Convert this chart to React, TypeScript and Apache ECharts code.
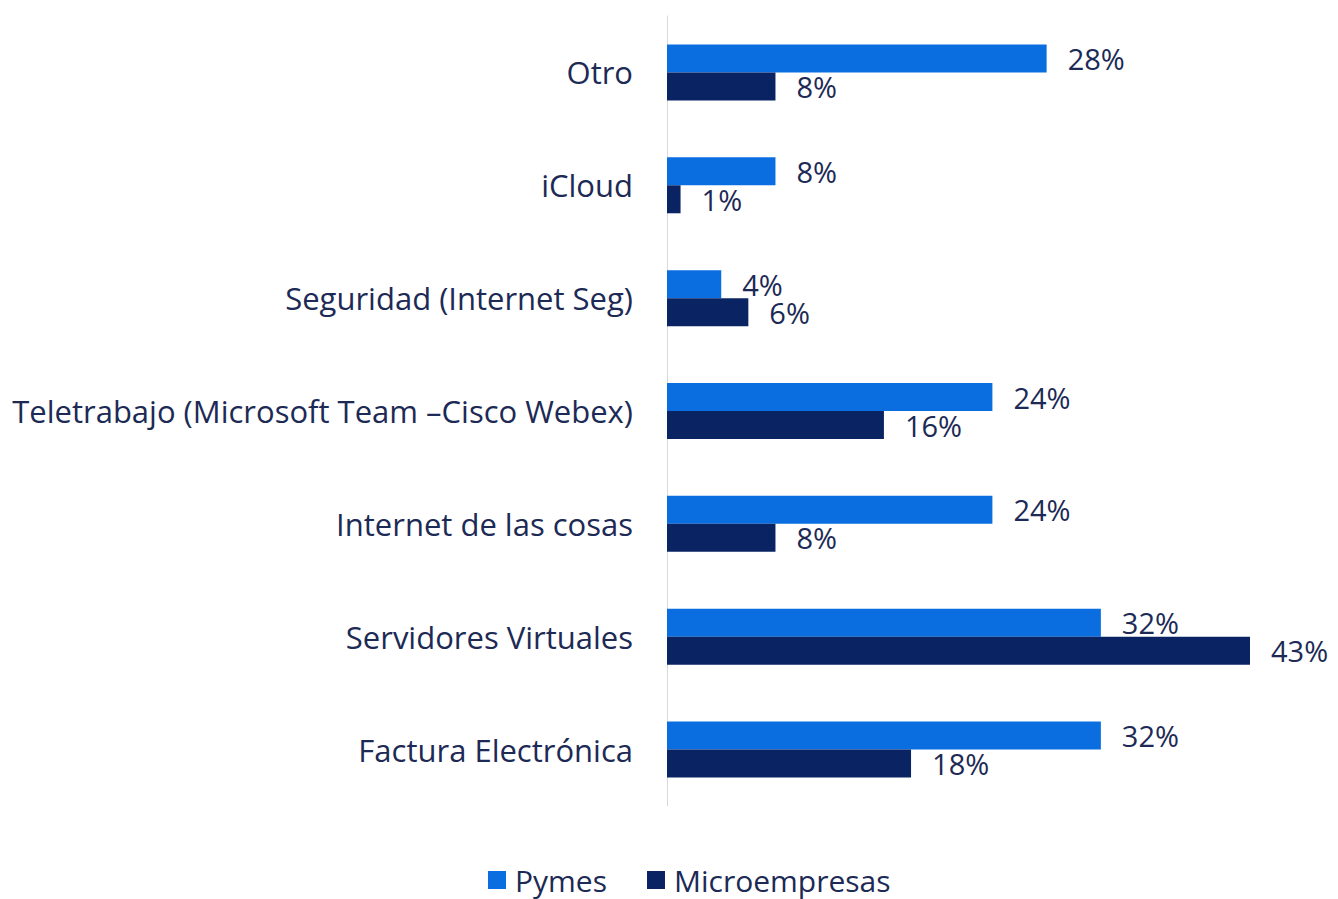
import React, { useEffect, useRef } from "react";
import * as echarts from "echarts";

const categories = [
  "Otro",
  "iCloud",
  "Seguridad (Internet Seg)",
  "Teletrabajo (Microsoft Team –Cisco Webex)",
  "Internet de las cosas",
  "Servidores Virtuales",
  "Factura Electrónica",
];
const pymes = [28, 8, 4, 24, 24, 32, 32];
const microempresas = [8, 1, 6, 16, 8, 43, 18];

const FONT = "'Open Sans', 'Noto Sans', sans-serif";
const TEXT = "#1c2a55";

export default function App() {
  const ref = useRef<HTMLDivElement>(null);
  useEffect(() => {
    const chart = echarts.init(ref.current!, null, { renderer: "svg" });
    const label = {
      show: true,
      position: "right",
      distance: 21,
      formatter: "{c}%",
      color: TEXT,
      fontSize: 29,
      lineHeight: 27,
      fontFamily: FONT,
    };
    chart.setOption({
      animation: false,
      backgroundColor: "#ffffff",
      textStyle: { fontFamily: FONT },
      grid: { left: 667, right: 88, top: 16, bottom: 93, containLabel: false },
      legend: {
        left: 488,
        top: 864,
        padding: 0,
        itemWidth: 18,
        itemHeight: 18,
        itemGap: 40,
        icon: "rect",
        textStyle: {
          fontSize: 30,
          lineHeight: 32,
          color: TEXT,
          fontFamily: FONT,
          padding: [0, 0, 0, 4],
        },
        data: ["Pymes", "Microempresas"],
      },
      xAxis: {
        type: "value",
        min: 0,
        max: 43,
        show: false,
        splitLine: { show: false },
      },
      yAxis: {
        type: "category",
        data: categories,
        inverse: true,
        axisLine: { show: true, lineStyle: { color: "#d9d9d9", width: 1 } },
        axisTick: { show: false },
        axisLabel: {
          color: TEXT,
          fontSize: 31,
          fontFamily: FONT,
          margin: 34,
        },
      },
      series: [
        {
          name: "Pymes",
          type: "bar",
          data: pymes,
          barWidth: 28,
          barGap: "0%",
          itemStyle: { color: "#0a6ee0" },
          label,
        },
        {
          name: "Microempresas",
          type: "bar",
          data: microempresas,
          barWidth: 28,
          barGap: "0%",
          itemStyle: { color: "#0a2463" },
          label,
        },
      ],
    });
    return () => chart.dispose();
  }, []);
  return (
    <div
      ref={ref}
      style={{ position: "fixed", left: 0, top: 0, width: 1338, height: 899 }}
    />
  );
}
